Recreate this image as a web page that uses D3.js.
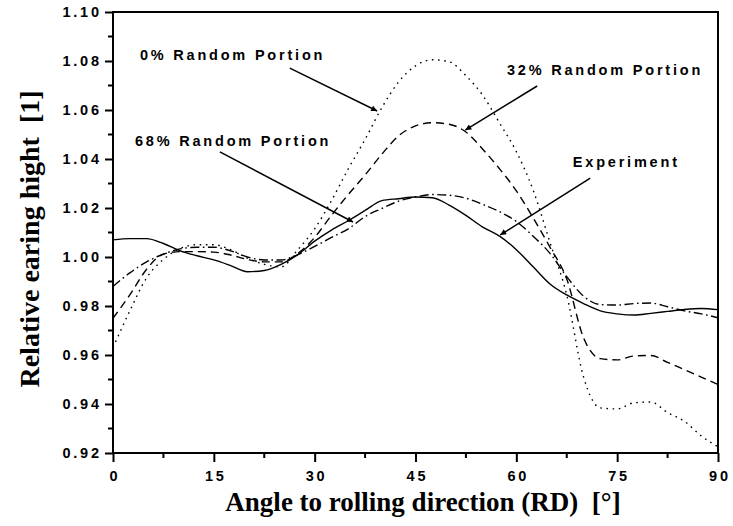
<!DOCTYPE html>
<html>
<head>
<meta charset="utf-8">
<script src="https://cdn.jsdelivr.net/npm/d3@7"></script>
<style>
  html, body { margin: 0; padding: 0; background: #fff; }
  svg { display: block; }
</style>
</head>
<body>
<svg id="chart" width="733" height="526"></svg>
<script>
// ---- data ----
const angles = [0,2.5,5,7.5,10,12.5,15,17.5,20,22.5,25,27.5,30,32.5,35,37.5,40,42.5,45,47.5,50,52.5,55,57.5,60,62.5,65,67.5,70,72.5,75,77.5,80,82.5,85,87.5,90];
const random0 = [0.963,0.978,0.9915,0.999,1.0035,1.005,1.005,1.003,0.9995,0.997,0.996,1.003,1.0115,1.023,1.036,1.048,1.061,1.0715,1.078,1.0805,1.0797,1.074,1.066,1.0547,1.043,1.0273,1.006,0.9845,0.951,0.9384,0.938,0.9405,0.9408,0.9365,0.933,0.927,0.9225];
const random32 = [0.975,0.9845,0.995,1.0012,1.0022,1.0022,1.002,1.0008,0.999,0.998,0.998,1.0015,1.008,1.017,1.0255,1.0335,1.042,1.0495,1.0535,1.0548,1.0542,1.051,1.044,1.036,1.027,1.016,1.004,0.991,0.967,0.9585,0.958,0.9596,0.9598,0.957,0.954,0.951,0.948];
const random68 = [0.988,0.9935,0.998,1.0012,1.0033,1.004,1.004,1.0025,1.0,0.9988,0.9988,1.001,1.0043,1.008,1.0115,1.0165,1.0198,1.0228,1.0245,1.0255,1.0252,1.024,1.0215,1.0185,1.0145,1.0085,1.0015,0.992,0.984,0.9806,0.9804,0.981,0.9812,0.9797,0.978,0.9768,0.9752];
const experiment = [1.007,1.0075,1.0075,1.0055,1.0025,1.0005,0.9988,0.9965,0.994,0.9945,0.997,1.001,1.0065,1.011,1.0148,1.019,1.023,1.0238,1.0245,1.0242,1.0212,1.017,1.0122,1.0085,1.003,0.996,0.989,0.9845,0.981,0.978,0.9768,0.9763,0.977,0.9778,0.9786,0.979,0.9785];

const xTicks = [0,15,30,45,60,75,90];
const yTicks = [0.92,0.94,0.96,0.98,1.00,1.02,1.04,1.06,1.08,1.10];
const xLabel = "Angle to rolling direction (RD)  [°]";
const yLabel = "Relative earing hight  [1]";

// annotations: label, label anchor (x,y) and arrow from/to in data units
const annoLabels = ["0% Random Portion","32% Random Portion","68% Random Portion","Experiment"];
const annoText = [[4.0,1.0804],[58.6,1.0743],[3.27,1.0453],[68.4,1.0367]];
const annoFrom = [[26.3,1.0771],[63.1,1.0698],[15.9,1.0429],[71.0,1.0322]];
const annoTo   = [[39.3,1.0596],[52.4,1.0518],[35.7,1.0143],[57.6,1.0090]];

// ---- layout ----
const W = 733, H = 526;
const margin = {left:113, top:12, right:15, bottom:73};
const svg = d3.select("#chart");
const x = d3.scaleLinear().domain([0,90]).range([margin.left, W - margin.right]);
const y = d3.scaleLinear().domain([0.92,1.10]).range([H - margin.bottom, margin.top]);

const tickFont = "'Liberation Sans', Arial, sans-serif";
const serif = "'Liberation Serif', 'Times New Roman', serif";
const LS = 2.8;

// curves
const series = [
  {values: random0, dash: "1.6 4.6"},
  {values: random32, dash: "8 5"},
  {values: random68, dash: "9 3.5 1.6 3.5"},
  {values: experiment, dash: null}
];
const line = d3.line().x(d => x(d[0])).y(d => y(d[1])).curve(d3.curveMonotoneX);
const plot = svg.append("g");
plot.append("defs").append("clipPath").attr("id","clip")
  .append("rect").attr("x", x(0)).attr("y", y(1.10)).attr("width", x(90)-x(0)).attr("height", y(0.92)-y(1.10));
series.forEach(s => {
  plot.append("path")
    .attr("d", line(angles.map((a,i) => [a, s.values[i]])))
    .attr("fill","none").attr("stroke","#000")
    .attr("stroke-width", 1.4)
    .attr("stroke-dasharray", s.dash)
    .attr("clip-path","url(#clip)");
});

// frame
svg.append("rect")
  .attr("x", x(0)).attr("y", y(1.10))
  .attr("width", x(90)-x(0)).attr("height", y(0.92)-y(1.10))
  .attr("fill","none").attr("stroke","#000").attr("stroke-width",2);

// axes
const xAxis = d3.axisBottom(x).tickValues(xTicks).tickSize(9).tickPadding(9).tickFormat(d3.format("d"));
const gx = svg.append("g").attr("transform", `translate(0,${y(0.92)})`).call(xAxis);
const yAxis = d3.axisLeft(y).tickValues(yTicks).tickSize(8).tickPadding(6).tickFormat(d3.format(".2f"));
const gy = svg.append("g").attr("transform", `translate(${x(0)},0)`).call(yAxis);
[gx, gy].forEach(g => {
  g.select(".domain").remove();
  g.selectAll(".tick line").attr("stroke","#000").attr("stroke-width",2);
  g.selectAll(".tick text")
    .attr("fill","#000")
    .style("font-family", tickFont).style("font-weight","bold").style("font-size","14.5px")
    .style("letter-spacing", LS + "px");
});
gy.selectAll(".tick text").attr("dx", (LS) + "px");
gx.selectAll(".tick text").attr("dx", (LS/2) + "px");

// minor ticks
const xMinor = d3.range(7.5, 90, 15);
svg.append("g").selectAll("line").data(xMinor).join("line")
  .attr("x1", d => x(d)).attr("x2", d => x(d))
  .attr("y1", y(0.92)).attr("y2", y(0.92)+5)
  .attr("stroke","#000").attr("stroke-width",2);
const yMinor = d3.range(0.93, 1.10, 0.02);
svg.append("g").selectAll("line").data(yMinor).join("line")
  .attr("x1", x(0)-5).attr("x2", x(0))
  .attr("y1", d => y(d)).attr("y2", d => y(d))
  .attr("stroke","#000").attr("stroke-width",2);

// axis titles
svg.append("text")
  .attr("x", 423).attr("y", 511)
  .attr("text-anchor","middle")
  .style("font-family", serif).style("font-weight","bold").style("font-size","27px")
  .style("white-space","pre")
  .text(xLabel);
svg.append("text")
  .attr("transform", `translate(39,239) rotate(-90)`)
  .attr("text-anchor","middle")
  .style("font-family", serif).style("font-weight","bold").style("font-size","28px")
  .style("white-space","pre")
  .text(yLabel);

// annotations
const defs = svg.append("defs");
defs.append("marker").attr("id","arrow")
  .attr("viewBox","0 0 10 10").attr("refX",10).attr("refY",5)
  .attr("markerWidth",10).attr("markerHeight",6).attr("markerUnits","userSpaceOnUse")
  .attr("orient","auto")
  .append("path").attr("d","M0,0 L10,5 L0,10 z").attr("fill","#000");

annoLabels.forEach((lab, i) => {
  svg.append("text")
    .attr("x", x(annoText[i][0])).attr("y", y(annoText[i][1]))
    .style("font-family", tickFont).style("font-weight","bold").style("font-size","14.5px")
    .style("letter-spacing", LS + "px")
    .text(lab);
  svg.append("line")
    .attr("x1", x(annoFrom[i][0])).attr("y1", y(annoFrom[i][1]))
    .attr("x2", x(annoTo[i][0])).attr("y2", y(annoTo[i][1]))
    .attr("stroke","#000").attr("stroke-width",1.5)
    .attr("marker-end","url(#arrow)");
});
</script>
</body>
</html>
